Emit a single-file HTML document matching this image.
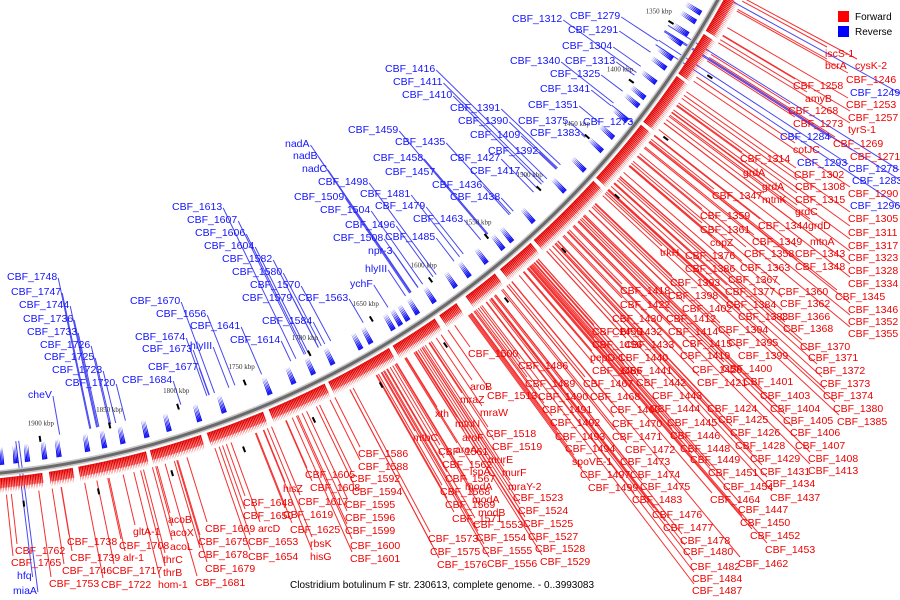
<!DOCTYPE html>
<html><head><meta charset="utf-8"><style>
html,body{margin:0;padding:0;background:#fff;}
svg{display:block;font-family:"Liberation Sans","DejaVu Sans",sans-serif;}
</style></head><body>
<svg id="chart" width="900" height="600" viewBox="0 0 900 600">
<g id="lines"></g><g id="ring"></g><g id="ticks"></g><g id="labels"></g>
<g>
<rect x="838" y="11" width="11" height="11" fill="#f00"/>
<text x="855" y="20" font-size="10" fill="#000">Forward</text>
<rect x="838" y="26" width="11" height="11" fill="#00f"/>
<text x="855" y="35" font-size="10" fill="#000">Reverse</text>
</g>
<text x="290" y="588" font-size="10" fill="#000">Clostridium botulinum F str. 230613, complete genome. - 0..3993083</text>
</svg>
<script>
const tickKbp = [1350,1400,1450,1500,1550,1600,1650,1700,1750,1800,1850,1900];
const fwdStart = [1318,1348,1382,1423,1473,1533,1565,1598,1616,1653,1703,1749,1794,1833,1884,1905,1940];
const fwdEnd   = [1345,1380,1420,1470,1530,1560,1590,1612,1650,1700,1745,1790,1830,1880,1900,1935,1962];
const revKbp = [1335,1342,1352,1360,1372,1380,1392,1405,1412,1425,1440,1452,1470,1490,1520,1540,1548,1563,1578,1590,1608,1622,1630,1636,1642,1660,1668,1690,1705,1720,1738,1772,1790,1812,1828,1845,1858,1870,1890,1900,1912,1920,1930,1940,1950];
const redLabels = [
["iscS-1",825,53],["bcrA",825,65],["cysK-2",855,65],["CBF_1246",846,79],["CBF_1258",793,85],["amyB",805,98],["CBF_1253",846,104],["CBF_1268",788,110],["CBF_1257",848,117],["CBF_1273",793,123],["tyrS-1",848,129],["CBF_1269",833,143],["cotJC",793,149],["CBF_1271",850,156],["CBF_1314",740,158],["grdA",743,172],["CBF_1302",794,174],["grdA",762,186],["CBF_1308",795,186],["CBF_1290",848,193],["CBF_1347",712,195],["mtnK",762,199],["CBF_1315",795,199],
["CBF_1359",700,215],["grdC",795,211],["CBF_1305",848,218],["CBF_1344",758,225],["grdD",808,225],["CBF_1361",700,229],["CBF_1311",848,232],["copZ",710,242],["CBF_1349",752,241],["mtnA",810,241],["CBF_1358",744,253],["CBF_1317",848,245],["trkH",660,252],["CBF_1376",685,255],["CBF_1343",795,253],["CBF_1323",848,257],["CBF_1386",685,268],["CBF_1363",740,267],["CBF_1348",795,266],["CBF_1328",848,270],["CBF_1393",670,282],["CBF_1367",728,279],["CBF_1334",848,283],["CBF_1418",620,290],["CBF_1398",668,295],["CBF_1377",725,291],["CBF_1360",778,291],["CBF_1345",835,296],["CBF_1384",726,304],["CBF_1362",780,303],["CBF_1422",620,304],["CBF_1402",682,308],["CBF_1346",848,309],["CBF_1430",612,318],["CBF_1412",666,318],["CBF_1388",738,316],["CBF_1366",780,316],["CBF_1352",848,321],["CBF_1455",592,331],["CBF_1432",612,331],["CBF_1414",668,331],["CBF_1394",718,329],["CBF_1368",783,328],["CBF_1355",848,333],["CBF_1456",592,344],["CBF_1433",624,344],["CBF_1415",682,343],["CBF_1395",728,342],["CBF_1370",800,346],["CBF_1419",680,355],["pepD-1",590,357],["CBF_1440",618,357],["CBF_1399",738,355],["CBF_1371",808,357],["CBF_1466",592,370],["CBF_1441",622,370],["CBF_1420",692,369],["CBF_1400",722,368],["CBF_1372",815,370],["CBF_1467",583,383],["CBF_1442",636,382],["CBF_1421",697,382],["CBF_1401",743,381],["CBF_1373",820,383],["CBF_1468",590,396],["CBF_1443",652,395],["CBF_1403",760,395],["CBF_1374",823,395],["CBF_1469",610,409],["CBF_1444",650,408],["CBF_1424",707,408],["CBF_1404",770,408],["CBF_1380",833,408],["CBF_1470",612,423],["CBF_1445",667,422],["CBF_1425",718,419],["CBF_1405",783,420],["CBF_1385",837,421],["CBF_1471",612,436],["CBF_1446",670,435],["CBF_1426",730,432],["CBF_1406",790,432],["CBF_1472",625,449],["CBF_1448",680,448],["CBF_1428",735,445],["CBF_1407",795,445],["CBF_1473",620,461],["CBF_1449",690,459],["CBF_1429",750,458],["CBF_1408",808,458],["CBF_1474",630,474],["CBF_1451",708,472],["CBF_1431",760,471],["CBF_1413",808,470],["CBF_1475",640,486],["CBF_1454",723,486],["CBF_1434",765,483],["CBF_1483",632,499],["CBF_1464",710,499],["CBF_1437",770,497],["CBF_1476",652,514],["CBF_1447",738,509],["CBF_1477",663,527],["CBF_1450",740,522],["CBF_1478",680,540],["CBF_1452",750,535],["CBF_1480",683,551],["CBF_1453",765,549],["CBF_1482",690,566],["CBF_1462",738,563],["CBF_1484",692,578],["CBF_1487",692,590],
["CBF_1500",468,353],["CBF_1486",518,365],["aroB",470,386],["CBF_1489",525,383],["CBF_1513",487,395],["mraZ",460,399],["CBF_1490",538,396],["mraW",480,412],["xth",435,413],["CBF_1491",542,409],["mtnN",455,423],["CBF_1492",550,422],["CBF_1518",486,433],["aroF",462,437],["mtbC",413,437],["CBF_1493",555,436],["CBF_1519",492,446],["aroA",455,449],["CBF_1561",438,451],["CBF_1494",565,448],["murE",488,459],["CBF_1562",442,464],["spoVE-1",572,461],["lspA",470,471],["murF",502,472],["CBF_1497",580,474],["CBF_1567",445,478],["modA",465,486],["mraY-2",508,486],["CBF_1499",588,487],["CBF_1568",440,491],["modA",472,499],["CBF_1523",513,497],["CBF_1569",445,504],["modB",478,512],["CBF_1524",518,510],["CBF_1571",452,518],["CBF_1553",473,524],["CBF_1525",523,523],["CBF_1573",428,538],["CBF_1554",476,537],["CBF_1527",528,536],["CBF_1575",430,551],["CBF_1555",482,550],["CBF_1528",535,548],["CBF_1576",437,564],["CBF_1556",487,563],["CBF_1529",540,561],
["CBF_1586",358,453],["CBF_1588",358,466],["CBF_1605",305,474],["CBF_1592",350,478],["hisZ",283,488],["CBF_1608",310,487],["CBF_1594",352,491],["CBF_1617",298,501],["CBF_1595",345,504],["CBF_1648",243,502],["CBF_1619",283,514],["CBF_1596",345,517],["CBF_1650",243,515],["CBF_1625",290,529],["CBF_1599",345,530],["arcD",258,528],["rbsK",310,543],["CBF_1600",350,545],["CBF_1653",248,541],["hisG",310,556],["CBF_1601",350,558],["CBF_1654",248,556],["CBF_1669",205,528],["CBF_1675",198,541],["CBF_1678",198,554],["CBF_1679",205,568],["CBF_1681",195,582],["acoB",168,519],["acoX",170,532],["acoL",170,546],["thrC",163,559],["thrB",163,572],["hom-1",158,584],["gltA-1",133,531],["CBF_1708",119,545],["alr-1",123,557],["CBF_1717",112,570],["CBF_1722",101,584],["CBF_1738",67,541],["CBF_1739",70,557],["CBF_1746",62,570],["CBF_1753",49,583],["CBF_1762",15,550],["CBF_1765",11,562]
];
const blueLabels = [
["CBF_1249",850,92],["CBF_1284",780,136],["CBF_1293",797,162],["CBF_1278",848,168],["CBF_1283",852,180],["CBF_1296",850,205],
["CBF_1312",512,18],["CBF_1279",570,15],["CBF_1291",568,29],["CBF_1304",562,45],["CBF_1340",510,60],["CBF_1313",565,60],["CBF_1325",550,73],["CBF_1416",385,68],["CBF_1411",393,81],["CBF_1341",540,88],["CBF_1410",402,94],["CBF_1351",528,104],["CBF_1391",450,107],["CBF_1375",518,120],["CBF_1273",583,121],["CBF_1390",458,120],["CBF_1383",530,132],["CBF_1459",348,129],["CBF_1409",470,134],["nadA",285,143],["CBF_1435",395,141],["CBF_1392",488,150],["nadB",293,155],["CBF_1458",373,157],["CBF_1427",450,157],["nadC",302,168],["CBF_1457",385,171],["CBF_1417",470,170],["CBF_1498",318,181],["CBF_1436",432,184],["CBF_1481",360,193],["CBF_1509",294,196],["CBF_1438",450,196],["CBF_1504",320,209],["CBF_1479",375,205],["CBF_1613",172,206],["CBF_1607",187,219],["CBF_1496",345,224],["CBF_1463",413,218],["CBF_1606",195,232],["CBF_1508",333,237],["CBF_1485",385,236],["CBF_1604",204,245],["npr-3",368,250],["CBF_1582",222,258],["CBF_1580",232,271],["hlyIII",365,268],["CBF_1570",250,284],["ychF",350,283],["CBF_1579",242,297],["CBF_1563",298,297],["CBF_1748",7,276],["CBF_1747",11,291],["CBF_1670",130,300],["CBF_1744",19,304],["CBF_1584",262,320],["CBF_1656",156,313],["CBF_1736",23,318],["CBF_1641",190,325],["CBF_1733",27,331],["CBF_1674",135,336],["CBF_1614",230,339],["CBF_1726",40,344],["CBF_1673",142,348],["hlyIII",190,345],["CBF_1725",44,356],["CBF_1677",148,366],["CBF_1723",52,369],["CBF_1720",65,382],["CBF_1684",122,379],["cheV",28,394],["hfq",17,575],["miaA",13,590]
];

const NS="http://www.w3.org/2000/svg";
const CX=-95, CY=-452, R=930;
function ang(k){return (31.5+(k-1350)*0.0902)*Math.PI/180;}
function pt(k,r){const a=ang(k);return [CX+r*Math.cos(a),CY+r*Math.sin(a)];}
function mk(tag,attrs,parent){const e=document.createElementNS(NS,tag);for(const k in attrs)e.setAttribute(k,attrs[k]);parent.appendChild(e);return e;}
const gLines=document.getElementById('lines'),gRing=document.getElementById('ring'),gTicks=document.getElementById('ticks'),gLab=document.getElementById('labels');

{const a=pt(1300,R),b=pt(1975,R);
const p1=mk('path',{d:`M${a[0]},${a[1]} A${R},${R} 0 0 1 ${b[0]},${b[1]}`,fill:'none',stroke:'#c8c8c8','stroke-width':6},gRing);


const p2=mk('path',{d:`M${a[0]},${a[1]} A${R},${R} 0 0 1 ${b[0]},${b[1]}`,fill:'none',stroke:'#6a6a6a','stroke-width':3},gRing);

}

fwdStart.forEach((s,i)=>{const e=fwdEnd[i];
 const a=pt(s,935),b=pt(e,935),c=pt(e,945),d=pt(s,945);
 const band=mk('path',{d:`M${a[0]},${a[1]} A935,935 0 0 1 ${b[0]},${b[1]} L${c[0]},${c[1]} A945,945 0 0 0 ${d[0]},${d[1]}Z`,fill:'#ff9090'},gRing);
 
 
 for(let k=s;k<e-0.5;k+=1.1){const p=pt(k,935),q=pt(k+1.0,935),t=pt(k+1.0,950);
  const tri=mk('polygon',{points:`${p[0]},${p[1]} ${q[0]},${q[1]} ${t[0]},${t[1]}`,fill:'#e00000'},gRing);
  
  }
});
revKbp.forEach(k=>{for(let j=0;j<4;j++){const s=k+j*0.9;
 const p=pt(s,922),q=pt(s+1.0,922),t=pt(s,904);
 const tri=mk('polygon',{points:`${p[0]},${p[1]} ${q[0]},${q[1]} ${t[0]},${t[1]}`,fill:'#1010f0'},gRing);
 
 }});

tickKbp.forEach(k=>{const p=pt(k,885);
 const t=mk('text',{x:p[0]-14,y:p[1]+3,'font-size':7,'font-family':'Liberation Serif,serif',fill:'#333'},gTicks);
 t.textContent=k+' kbp';
 
 
 const a=pt(k+3,898),b=pt(k+3,904);
 const d=mk('line',{x1:a[0],y1:a[1],x2:b[0],y2:b[1],stroke:'#000','stroke-width':2},gTicks);
 
 
 const c=pt(k+20,960),e=pt(k+20,966);
 const d2=mk('line',{x1:c[0],y1:c[1],x2:e[0],y2:e[1],stroke:'#000','stroke-width':2},gTicks);
 
 
});

function label(item,col,lineCol,isRed){
 const [name,x,y]=item;
 const t=mk('text',{x:x,y:y+4,'font-size':10.5,fill:col},gLab);
 t.textContent=name;
 
 
 const w=t.getComputedTextLength();
 let ax,ay;
 if(isRed){ax=x+2;ay=y-6;}else{ax=x+w+1;ay=y+2;}
 const a=Math.atan2(ay-CY,ax-CX);
 const r=isRed?952:900;
 const sx=CX+r*Math.cos(a),sy=CY+r*Math.sin(a);
 const l=mk('line',{x1:sx,y1:sy,x2:ax,y2:ay,stroke:lineCol,'stroke-width':1},gLines);
 
 
}
redLabels.forEach(it=>label(it,'#f00000','#f43030',true));
blueLabels.forEach(it=>label(it,'#1414ff','#4848f0',false));
</script>
</body></html>
